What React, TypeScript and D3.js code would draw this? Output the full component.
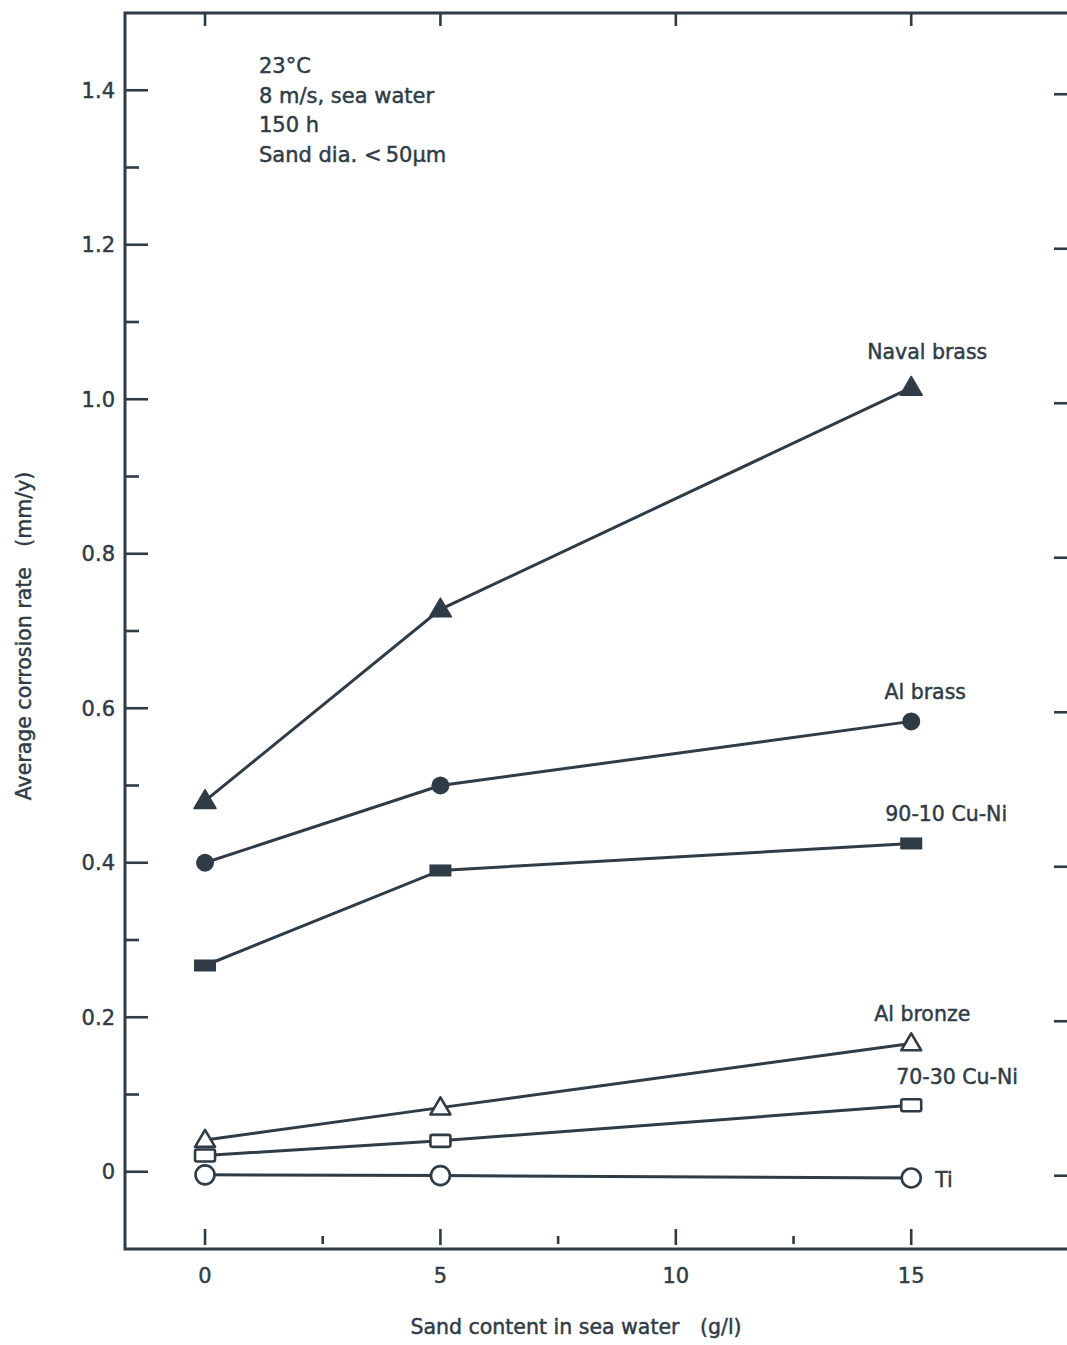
import React, { useEffect } from "react";
import * as d3 from "d3";

const sandContent = [0, 5, 15];
const navalBrass = [0.48, 0.728, 1.015];
const alBrass = [0.4, 0.5, 0.583];
const cuNi9010 = [0.267, 0.39, 0.425];
const alBronze = [0.041, 0.083, 0.166];
const cuNi7030 = [0.021, 0.04, 0.086];
const titanium = [-0.004, -0.005, -0.008];

const seriesNames = ["Naval brass", "Al brass", "90-10 Cu-Ni", "Al bronze", "70-30 Cu-Ni", "Ti"];
const seriesValues = [navalBrass, alBrass, cuNi9010, alBronze, cuNi7030, titanium];
const seriesMarkers = ["triFilled", "circFilled", "rectFilled", "triOpen", "rectOpen", "circOpen"];

const yMajorTicks = [0, 0.2, 0.4, 0.6, 0.8, 1.0, 1.2, 1.4];
const yMinorTicks = [0.1, 0.3, 0.5, 0.7, 0.9, 1.1, 1.3];
const xMajorTicks = [0, 5, 10, 15];
const xMinorTicks = [2.5, 7.5, 12.5];
const conditionLines = ["23°C", "8 m/s, sea water", "150 h", "Sand dia. <\u200950μm"];

// label offsets relative to the last point (pixels)
const labelOffsets: [number, number, string][] = [
  [16, -29, "middle"],
  [14, -22, "middle"],
  [35, -22, "middle"],
  [11, -23, "middle"],
  [-15, -21, "start"],
  [24, 9, "start"],
];

const INK = "#2f3b45";
const FONT = "'DejaVu Sans', sans-serif";
const TXT = { fill: INK, stroke: INK, strokeWidth: 0.45 };

const W = 1067;
const H = 1345;
const left = 125;
const right = 1068;
const frameRight = 1072;
const top = 13;
const bottom = 1249;

const x = d3.scaleLinear().domain([-1.7, 18.33]).range([left, right]);
const y = d3.scaleLinear().domain([-0.1, 1.5]).range([bottom, top]);

function Marker({ kind, cx, cy }: { kind: string; cx: number; cy: number }) {
  if (kind === "triFilled" || kind === "triOpen") {
    const s = kind === "triFilled" ? 22 : 20;
    const h = s * 0.85;
    const p = `M${cx},${cy - h * 0.6} L${cx + s / 2},${cy + h * 0.4} L${cx - s / 2},${cy + h * 0.4} Z`;
    return kind === "triFilled" ? (
      <path d={p} fill={INK} stroke={INK} strokeWidth={1.5} strokeLinejoin="round" />
    ) : (
      <path d={p} fill="white" stroke={INK} strokeWidth={2.6} strokeLinejoin="round" />
    );
  }
  if (kind === "circFilled") return <circle cx={cx} cy={cy} r={9} fill={INK} />;
  if (kind === "circOpen") return <circle cx={cx} cy={cy} r={9.5} fill="white" stroke={INK} strokeWidth={2.6} />;
  if (kind === "rectFilled") return <rect x={cx - 11} y={cy - 6} width={22} height={12} fill={INK} />;
  return <rect x={cx - 10} y={cy - 6} width={20} height={12} rx={2} fill="white" stroke={INK} strokeWidth={2.6} />;
}

export default function App() {
  useEffect(() => {
    document.body.style.margin = "0";
  }, []);

  const line = d3
    .line<number>()
    .x((_, i) => x(sandContent[i]))
    .y((d) => y(d));

  return (
    <svg width={W} height={H} style={{ display: "block", background: "white" }} fontFamily={FONT}>
      {/* frame */}
      <rect x={left} y={top} width={frameRight - left} height={bottom - top} fill="none" stroke={INK} strokeWidth={3} />

      {/* left ticks */}
      {yMajorTicks.map((t) => (
        <g key={"ly" + t}>
          <line x1={left} x2={left + 23} y1={y(t)} y2={y(t)} stroke={INK} strokeWidth={2.6} />
          <text x={left - 10} y={y(t)} dy="0.36em" textAnchor="end" fontSize={21} {...TXT}>
            {t === 0 ? "0" : d3.format(".1f")(t)}
          </text>
          <line x1={right - 14} x2={frameRight} y1={y(t) + 4} y2={y(t) + 4} stroke={INK} strokeWidth={2.6} />
        </g>
      ))}
      {yMinorTicks.map((t) => (
        <line key={"lm" + t} x1={left} x2={left + 14} y1={y(t)} y2={y(t)} stroke={INK} strokeWidth={2.6} />
      ))}

      {/* bottom & top ticks */}
      {xMajorTicks.map((t) => (
        <g key={"bx" + t}>
          <line x1={x(t)} x2={x(t)} y1={bottom - 4} y2={bottom - 20} stroke={INK} strokeWidth={2.6} />
          <line x1={x(t)} x2={x(t)} y1={top} y2={top + 13} stroke={INK} strokeWidth={2.6} />
          <text x={x(t)} y={1283} textAnchor="middle" fontSize={21} {...TXT}>
            {t}
          </text>
        </g>
      ))}
      {xMinorTicks.map((t) => (
        <line key={"bm" + t} x1={x(t)} x2={x(t)} y1={bottom - 5} y2={bottom - 13} stroke={INK} strokeWidth={2.6} />
      ))}

      {/* axis titles */}
      <text x={576} y={1334} textAnchor="middle" fontSize={20.5} {...TXT}>
        Sand content in sea water{"\u2003"}(g/l)
      </text>
      <text transform={`translate(31,636) rotate(-90)`} textAnchor="middle" fontSize={20.5} {...TXT}>
        Average corrosion rate{"\u2003"}(mm/y)
      </text>

      {/* condition notes */}
      {conditionLines.map((s, i) => (
        <text key={s} x={259} y={73 + i * 29.5} fontSize={21} {...TXT}>
          {s}
        </text>
      ))}

      {/* series */}
      {seriesValues.map((vals, si) => (
        <g key={seriesNames[si]}>
          <path d={line(vals) || ""} fill="none" stroke={INK} strokeWidth={3} />
          {vals.map((v, i) => (
            <Marker key={i} kind={seriesMarkers[si]} cx={x(sandContent[i])} cy={y(v)} />
          ))}
          <text
            x={x(sandContent[sandContent.length - 1]) + labelOffsets[si][0]}
            y={y(vals[vals.length - 1]) + labelOffsets[si][1]}
            textAnchor={labelOffsets[si][2]}
            fontSize={20.5}
            {...TXT}
          >
            {seriesNames[si]}
          </text>
        </g>
      ))}
    </svg>
  );
}
